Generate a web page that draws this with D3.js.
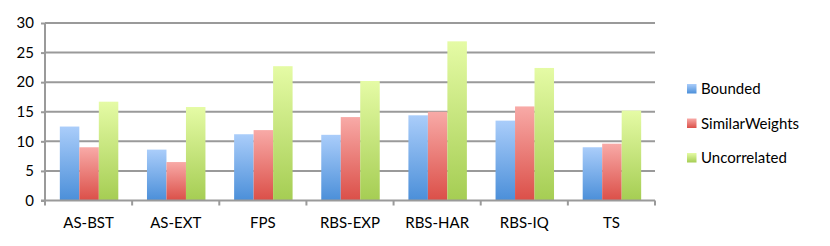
<!DOCTYPE html>
<html><head><meta charset="utf-8">
<script src="https://cdn.jsdelivr.net/npm/d3@7"></script>
<style>body{margin:0;background:#fff}svg{display:block}text{font-family:Lato,"Open Sans",sans-serif;fill:#000}</style>
</head><body><svg id="c" width="830" height="246"></svg>
<script>
const categories = ["AS-BST","AS-EXT","FPS","RBS-EXP","RBS-HAR","RBS-IQ","TS"];
const seriesNames = ["Bounded","SimilarWeights","Uncorrelated"];
const bounded = [12.5, 8.6, 11.2, 11.1, 14.4, 13.5, 9.0];
const similarWeights = [9.0, 6.5, 11.9, 14.1, 15.0, 15.9, 9.6];
const uncorrelated = [16.7, 15.8, 22.7, 20.2, 26.9, 22.4, 15.2];
const yTicks = [0,5,10,15,20,25,30];
const seriesValues = [bounded, similarWeights, uncorrelated];
const gradStops = [["#aacdfa","#4b8fd9"],["#f8aaa7","#db4f48"],["#e5fba5","#a5cd53"]];

const svg = d3.select("#c");
const m = {l:45, r:655, t:23, b:200.5};
const x = d3.scaleBand().domain(categories).range([m.l, m.r]).paddingInner(0).paddingOuter(0);
const inner = d3.scaleBand().domain(seriesNames).range([1, x.bandwidth()]).paddingInner(0).paddingOuter(0.71);
const y = d3.scaleLinear().domain([0,30]).range([m.b, m.t]);

const defs = svg.append("defs");
gradStops.forEach((g,i)=>{
  const lg = defs.append("linearGradient").attr("id","g"+i).attr("x1",0).attr("y1",0).attr("x2",0).attr("y2",1);
  lg.append("stop").attr("offset","0").attr("stop-color",g[0]);
  lg.append("stop").attr("offset","1").attr("stop-color",g[1]);
});

// gridlines
svg.append("g").selectAll("line").data(yTicks.slice(1)).join("line")
  .attr("x1", m.l).attr("x2", m.r).attr("y1", d=>y(d)).attr("y2", d=>y(d))
  .attr("stroke","#9a9a9a").attr("stroke-width",2);

// y axis
const ya = svg.append("g").attr("transform",`translate(${m.l},0)`)
  .call(d3.axisLeft(y).tickValues(yTicks).tickSize(4).tickPadding(7));
ya.select(".domain").attr("stroke","#9a9a9a").attr("stroke-width",2).attr("d",`M0,${m.t}V${m.b}`);
ya.selectAll(".tick line").attr("stroke","#9a9a9a").attr("stroke-width",2);
ya.selectAll(".tick text").attr("font-size",15).attr("font-family","Lato,sans-serif").attr("fill","#000");

// bars
const groups = svg.append("g").selectAll("g").data(categories).join("g")
  .attr("transform", d=>`translate(${x(d)},0)`);
groups.selectAll("rect").data((d,ci)=>seriesNames.map((s,si)=>({s,si,v:seriesValues[si][ci]}))).join("rect")
  .attr("x", d=>inner(d.s)).attr("width", inner.bandwidth())
  .attr("y", d=>y(d.v)).attr("height", d=>y(0)-y(d.v))
  .attr("fill", d=>`url(#g${d.si})`);

// x axis
const xa = svg.append("g").attr("transform",`translate(0,${m.b})`)
  .call(d3.axisBottom(x).tickSize(0).tickPadding(14));
xa.select(".domain").attr("stroke","#9a9a9a").attr("stroke-width",2).attr("d",`M${m.l-4},0H${m.r}`);
xa.selectAll(".tick text").attr("font-size",15).attr("font-family","Lato,sans-serif").attr("fill","#000").attr("dy","0.9em");
// category separators
svg.append("g").selectAll("line").data(categories.map(c=>x(c)).concat([m.r])).join("line")
  .attr("x1", d=>d).attr("x2", d=>d).attr("y1", m.b).attr("y2", m.b+5)
  .attr("stroke","#9a9a9a").attr("stroke-width",2);

// legend
const leg = svg.append("g").attr("transform","translate(687,84)");
const li = leg.selectAll("g").data(seriesNames).join("g").attr("transform",(d,i)=>`translate(0,${i*34.5})`);
li.append("rect").attr("width",9.5).attr("height",9.5).attr("fill",(d,i)=>`url(#g${i})`);
li.append("text").attr("x",14).attr("y",10).attr("font-size",15).text(d=>d);
</script></body></html>
